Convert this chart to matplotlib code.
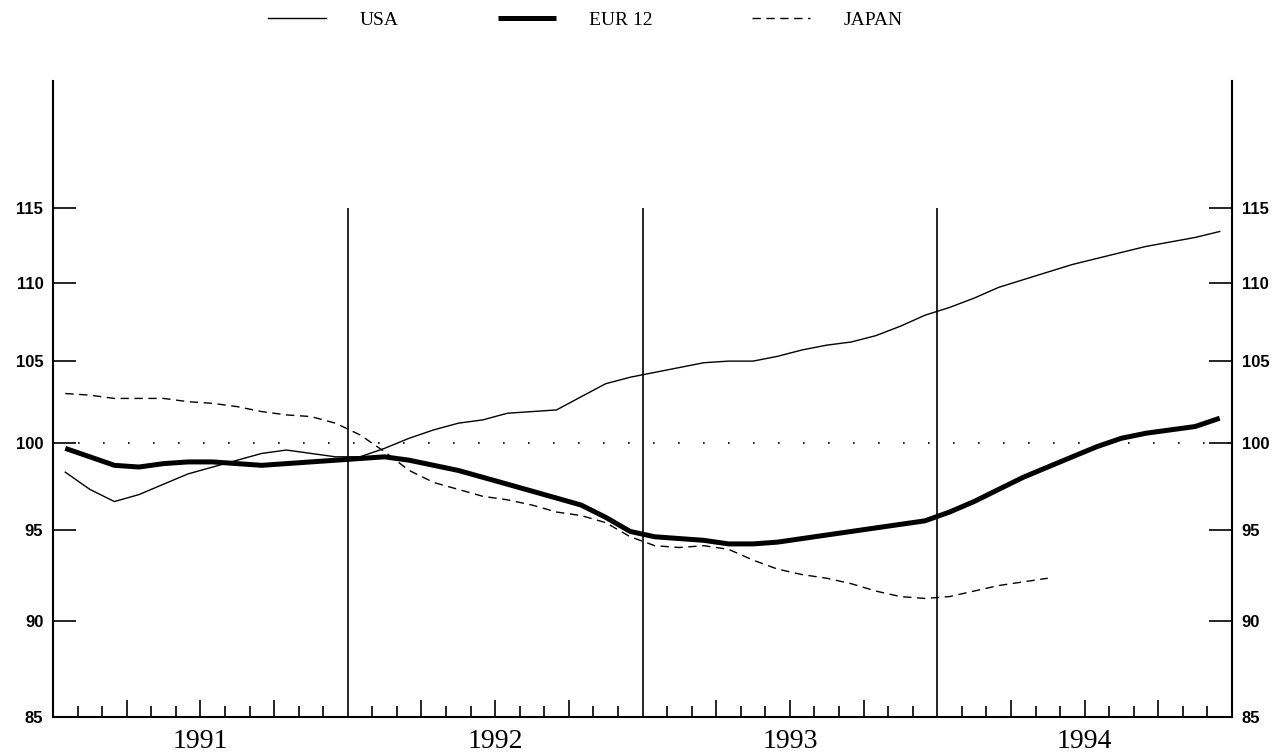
import numpy as np
import matplotlib
matplotlib.use("Agg")
import matplotlib.pyplot as plt
from matplotlib.ticker import FixedLocator, NullFormatter

# monthly index values, Jan 1991 .. Dec 1994
usa = [98.3, 97.3, 96.6, 97.0, 97.6, 98.2, 98.6, 99.0, 99.4, 99.6, 99.4, 99.2,
       99.2, 99.7, 100.3, 100.8, 101.2, 101.4, 101.8, 101.9, 102.0, 102.8, 103.6, 104.0,
       104.3, 104.6, 104.9, 105.0, 105.0, 105.3, 105.7, 106.0, 106.2, 106.6, 107.2, 107.9,
       108.4, 109.0, 109.7, 110.2, 110.7, 111.2, 111.6, 112.0, 112.4, 112.7, 113.0, 113.4]
eur12 = [99.7, 99.2, 98.7, 98.6, 98.8, 98.9, 98.9, 98.8, 98.7, 98.8, 98.9, 99.0,
         99.1, 99.2, 99.0, 98.7, 98.4, 98.0, 97.6, 97.2, 96.8, 96.4, 95.7, 94.9,
         94.6, 94.5, 94.4, 94.2, 94.2, 94.3, 94.5, 94.7, 94.9, 95.1, 95.3, 95.5,
         96.0, 96.6, 97.3, 98.0, 98.6, 99.2, 99.8, 100.3, 100.6, 100.8, 101.0, 101.5]
japan = [103.0, 102.9, 102.7, 102.7, 102.7, 102.5, 102.4, 102.2, 101.9, 101.7, 101.6, 101.2,
         100.5, 99.5, 98.4, 97.7, 97.3, 96.9, 96.7, 96.4, 96.0, 95.8, 95.4, 94.6,
         94.1, 94.0, 94.1, 93.9, 93.3, 92.8, 92.5, 92.3, 92.0, 91.6, 91.3, 91.2,
         91.3, 91.6, 91.9, 92.1, 92.3]

years = [1991, 1992, 1993, 1994]
yticks = [85, 90, 95, 100, 105, 110, 115]

x_usa = 1991 + (np.arange(len(usa)) + 0.5) / 12
x_eur = 1991 + (np.arange(len(eur12)) + 0.5) / 12
x_jap = 1991 + (np.arange(len(japan)) + 0.5) / 12

fig = plt.figure(figsize=(12.87, 7.54), dpi=100)
ax = fig.add_axes([53/1287, 37/754, 1179/1287, 636/754])

ax.plot(x_usa, usa, color="black", lw=1.0, label="USA")
ax.plot(x_eur, eur12, color="black", lw=3.6, label="EUR 12", solid_capstyle="butt")
ax.plot(x_jap, japan, color="black", lw=1.0, dashes=(6, 4), label="JAPAN")

ax.axhline(100, color="black", lw=1.2, linestyle=(0, (1, 14)))
ax.vlines(years[1:], 85, 115, color="black", lw=1.2)

ax.set_yscale("log")
ax.set_ylim(85, 124)
ax.set_xlim(1991, 1995)

ax.yaxis.set_major_locator(FixedLocator(yticks))
ax.yaxis.set_minor_locator(FixedLocator([]))
ax.set_yticklabels([str(v) for v in yticks])
ax.yaxis.set_minor_formatter(NullFormatter())
ax.tick_params(axis="y", which="major", direction="in", length=16.5, width=1.2,
               left=True, right=True, labelleft=True, labelright=True, pad=7)
for lab in ax.get_yticklabels():
    lab.set_fontfamily("Liberation Sans")
    lab.set_fontweight("bold")
    lab.set_fontsize(12)

# quarter ticks (major, year label at mid-year), monthly minor ticks
quarters = [y + q / 4 for y in years for q in (1, 2, 3)]
qlabels = [str(y) if q == 2 else "" for y in years for q in (1, 2, 3)]
months = [y + m / 12 for y in years for m in range(1, 12) if m % 3 != 0]
ax.xaxis.set_major_locator(FixedLocator(quarters))
ax.set_xticklabels(qlabels)
ax.xaxis.set_minor_locator(FixedLocator(months))
ax.tick_params(axis="x", which="major", direction="in", length=12, width=1.2, pad=9,
               labelsize=20)
ax.tick_params(axis="x", which="minor", direction="in", length=8, width=1.2)
for lab in ax.get_xticklabels():
    lab.set_fontfamily("Liberation Serif")

ax.spines["top"].set_visible(False)
for s in ["left", "right", "bottom"]:
    ax.spines[s].set_linewidth(1.5)

leg = ax.legend(loc="center left", bbox_to_anchor=(268/1287, 1 - 20/754),
                bbox_transform=fig.transFigure, ncol=3, frameon=False,
                borderpad=0, borderaxespad=0, handlelength=3.0, handletextpad=1.7,
                columnspacing=5.1, prop={"family": "Liberation Serif", "size": 14})

fig.savefig("out.png", dpi=100)
